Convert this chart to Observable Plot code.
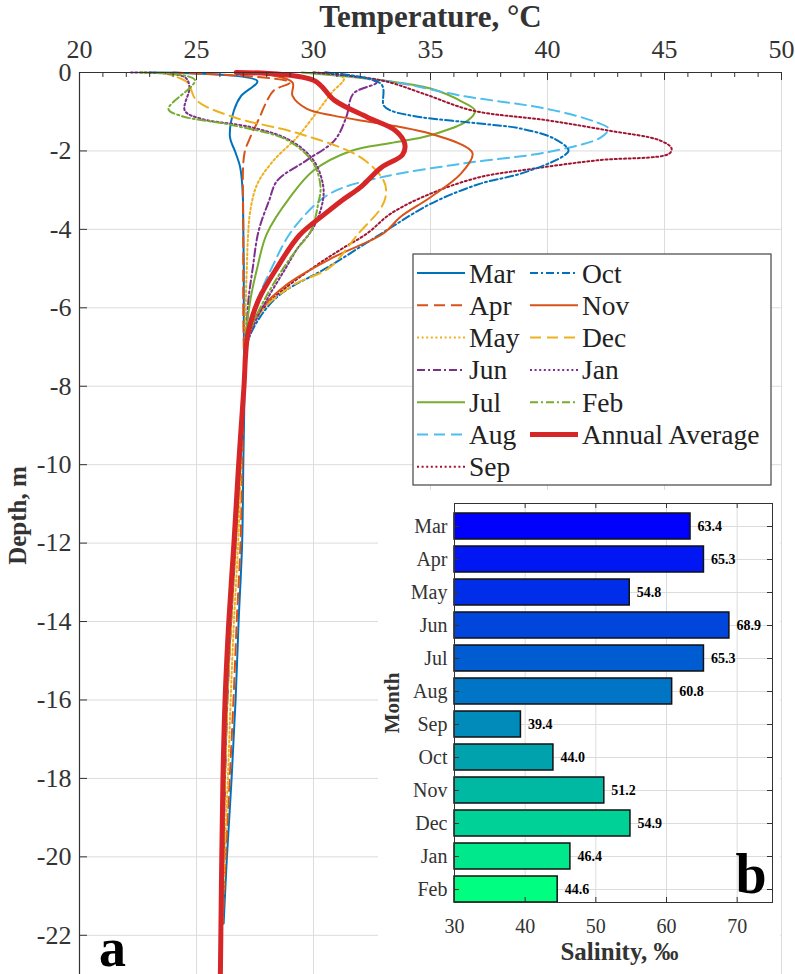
<!DOCTYPE html>
<html><head><meta charset="utf-8">
<script src="https://cdn.jsdelivr.net/npm/d3@7"></script>
<script src="https://cdn.jsdelivr.net/npm/@observablehq/plot@0.6"></script>
<style>
body{margin:0;background:#fff;}
#wrap{position:relative;width:795px;height:974px;overflow:hidden;font-family:"Liberation Serif",serif;}
#wrap > svg{position:absolute;margin:0;}
#wrap svg text{font-family:"Liberation Serif",serif !important;}
</style></head><body><div id="wrap"></div>
<script>
// Months in plotting order (March to February)
const months = ["Mar","Apr","May","Jun","Jul","Aug","Sep","Oct","Nov","Dec","Jan","Feb"];

// Temperature profiles: [depth (m), temperature (°C)]
const profMar = [[0,23.0],[-0.22,27.6],[-0.6,26.9],[-0.97,26.6],[-1.65,26.43],[-2.0,26.64],[-2.4,26.86],[-3,26.97],[-4,27.0],[-5,27.02],[-6,27.02],[-7,27.03],[-8,27.05],[-10,27.0],[-12,26.95],[-14,26.8],[-16,26.67],[-18,26.5],[-20,26.3],[-21.7,26.16]];
const profApr = [[0,24.0],[-0.25,29.0],[-0.46,28.3],[-0.8,27.95],[-1.14,27.7],[-1.65,27.3],[-2,27.07],[-2.3,27.0],[-3,26.98],[-4,27.0],[-5,27.0],[-6,27.0],[-7,27.02],[-8,27.02],[-10,26.95],[-12,26.88],[-14,26.72],[-16,26.58],[-18,26.42],[-20,26.25],[-21.7,26.12]];
const profMay = [[0,30.0],[-0.15,31.3],[-0.5,30.8],[-0.97,30.2],[-1.65,29.3],[-2.24,28.3],[-2.84,27.6],[-3.52,27.3],[-4.2,27.2],[-5,27.15],[-6,27.1],[-7,27.08],[-8,27.0],[-10,26.9],[-12,26.78],[-14,26.6],[-16,26.46],[-18,26.34],[-20,26.2],[-21.7,26.1]];
const profJun = [[0,30.5],[-0.25,32.7],[-0.54,31.7],[-1.14,31.4],[-1.73,30.9],[-2.24,29.7],[-2.76,28.45],[-3.27,28.1],[-4.05,27.65],[-5,27.4],[-5.8,27.22],[-6.5,27.15],[-7,27.12],[-8,27.05],[-10,26.86],[-12,26.68],[-14,26.48],[-16,26.32],[-18,26.22],[-20,26.14],[-21.7,26.09]];
const profJul = [[0,29.5],[-0.2,32.9],[-0.41,35.0],[-0.76,36.4],[-0.97,36.9],[-1.22,36.6],[-1.6,35.0],[-1.8,33.3],[-2.0,31.6],[-2.5,30.0],[-3.18,29.0],[-4.12,28.0],[-4.97,27.6],[-5.8,27.3],[-6.5,27.15],[-7,27.12],[-8,27.05],[-10,26.85],[-12,26.66],[-14,26.46],[-16,26.3],[-18,26.2],[-20,26.13],[-21.7,26.08]];
const profAug = [[0,30.0],[-0.25,33.5],[-0.59,36.3],[-0.93,40.0],[-1.27,42.1],[-1.43,42.6],[-1.65,42.3],[-2.03,40.0],[-2.32,36.4],[-2.67,32.9],[-3.0,31.0],[-3.3,30.2],[-4.1,29.0],[-5.0,28.2],[-5.8,27.6],[-6.5,27.2],[-7,27.12],[-8,27.05],[-10,26.85],[-12,26.66],[-14,26.46],[-16,26.3],[-18,26.2],[-20,26.13],[-21.7,26.08]];
const profSep = [[0,30.0],[-0.2,32.9],[-0.54,34.7],[-0.97,36.8],[-1.22,40.0],[-1.48,42.6],[-1.73,44.8],[-1.93,45.3],[-2.07,45.2],[-2.24,42.1],[-2.46,39.3],[-2.67,37.1],[-3.09,35.0],[-3.6,33.3],[-4.1,32.3],[-4.5,31.2],[-4.97,30.0],[-5.8,28.2],[-6.4,27.4],[-7,27.12],[-8,27.05],[-10,26.85],[-12,26.66],[-14,26.46],[-16,26.3],[-18,26.2],[-20,26.13],[-21.7,26.08]];
const profOct = [[0,30.5],[-0.3,32.9],[-0.84,33.0],[-0.97,33.3],[-1.14,34.6],[-1.3,37.1],[-1.43,38.85],[-1.69,40.3],[-1.99,40.9],[-2.16,40.6],[-2.58,38.85],[-2.84,37.1],[-3.35,35.0],[-4.07,33.0],[-4.97,30.6],[-5.65,28.6],[-6.25,27.7],[-7,27.12],[-8,27.05],[-10,26.86],[-12,26.67],[-14,26.47],[-16,26.31],[-18,26.21],[-20,26.14],[-21.7,26.09]];
const profNov = [[0,27.5],[-0.25,29.1],[-0.59,29.1],[-0.92,29.7],[-1.1,30.85],[-1.27,32.5],[-1.39,33.7],[-1.56,35.0],[-1.86,36.4],[-2.07,36.8],[-2.58,36.3],[-3.18,35.0],[-3.69,33.7],[-4.1,33.0],[-4.71,30.86],[-5.39,28.9],[-6.07,27.7],[-6.67,27.2],[-7,27.12],[-8,27.05],[-10,26.86],[-12,26.67],[-14,26.47],[-16,26.31],[-18,26.21],[-20,26.14],[-21.7,26.09]];
const profDec = [[0,23.5],[-0.25,24.6],[-0.71,25.0],[-1.14,26.6],[-1.56,29.4],[-2.16,32.0],[-2.76,33.0],[-3.09,33.1],[-3.44,32.9],[-4.12,31.9],[-4.97,30.7],[-5.4,29.2],[-6.0,27.9],[-6.6,27.3],[-7,27.12],[-8,27.04],[-10,26.86],[-12,26.68],[-14,26.48],[-16,26.32],[-18,26.22],[-20,26.14],[-21.7,26.09]];
const profJan = [[0,22.2],[-0.12,24.5],[-0.37,24.7],[-0.97,24.5],[-1.18,25.2],[-1.39,27.3],[-1.73,29.0],[-2.24,30.0],[-2.84,30.4],[-3.27,30.4],[-3.95,30.0],[-4.5,29.3],[-5.0,28.8],[-5.8,28.0],[-6.5,27.4],[-7,27.15],[-8,27.05],[-10,26.84],[-12,26.65],[-14,26.45],[-16,26.29],[-18,26.19],[-20,26.12],[-21.7,26.07]];
const profFeb = [[0,22.6],[-0.19,24.93],[-0.93,23.8],[-1.1,24.3],[-1.35,26.6],[-1.73,28.9],[-2.32,30.0],[-2.92,30.3],[-3.35,30.2],[-4.03,29.9],[-4.5,29.3],[-5.0,28.7],[-5.8,27.9],[-6.5,27.35],[-7,27.15],[-8,27.05],[-10,26.84],[-12,26.65],[-14,26.45],[-16,26.29],[-18,26.19],[-20,26.12],[-21.7,26.07]];
const profAvg = [[0,26.7],[-0.2,30.0],[-0.71,30.9],[-1.14,32.3],[-1.48,33.5],[-1.82,33.9],[-2.1,33.8],[-2.42,32.9],[-2.93,32.0],[-3.27,31.2],[-3.6,30.5],[-4.15,29.4],[-4.97,28.45],[-5.8,27.65],[-6.65,27.2],[-7.2,27.1],[-8,27.03],[-10,26.8],[-12,26.6],[-14,26.38],[-16,26.22],[-18,26.13],[-20,26.08],[-22,26.04],[-23,26.02]];

// Mean monthly salinity (‰)
const salinity = [63.4,65.3,54.8,68.9,65.3,60.8,39.4,44.0,51.2,54.9,46.4,44.6];

// Axis ticks
const tempTicks = [20,25,30,35,40,45,50];
const tempMinorTicks = [21,22,23,24,26,27,28,29,31,32,33,34,36,37,38,39,41,42,43,44,46,47,48,49];
const depthTicks = [0,-2,-4,-6,-8,-10,-12,-14,-16,-18,-20,-22];
const salTicks = [30,40,50,60,70];

// ---- styling ----
const profiles = {Mar:profMar,Apr:profApr,May:profMay,Jun:profJun,Jul:profJul,Aug:profAug,Sep:profSep,Oct:profOct,Nov:profNov,Dec:profDec,Jan:profJan,Feb:profFeb};
const C = {blue:"#0072BD", orange:"#D95319", yellow:"#EDB120", purple:"#7E2F8E", green:"#77AC30", cyan:"#4DBEEE", maroon:"#A2142F"};
const DASH = {solid:null, dashed:"11,6", dotted:"2,2.6", dashdot:"8,3,2,3"};
const lineStyle = {
  Mar:[C.blue,"solid"], Apr:[C.orange,"dashed"], May:[C.yellow,"dotted"], Jun:[C.purple,"dashdot"],
  Jul:[C.green,"solid"], Aug:[C.cyan,"dashed"], Sep:[C.maroon,"dotted"], Oct:[C.blue,"dashdot"],
  Nov:[C.orange,"solid"], Dec:[C.yellow,"dashed"], Jan:[C.purple,"dotted"], Feb:[C.green,"dashdot"]
};
const AVG_COLOR = "#d62628";
const INK = "#333";
const GRID = "#dcdcdc";
const FONT = "Liberation Serif, serif";

const wrap = document.getElementById("wrap");

// ---- panel a: temperature profiles ----
const W = 795, H = 974, mL = 79, mR = 14, mT = 72, mB = 0;
const fw = W - mL - mR, fh = H - mT - mB;

const profileMarks = months.map(m => {
  const [color, style] = lineStyle[m];
  return Plot.line(profiles[m], {x: d => d[1], y: d => d[0], stroke: color, strokeWidth: 2,
    strokeDasharray: DASH[style] ?? undefined, curve: "catmull-rom"});
});

const mainPlot = Plot.plot({
  width: W, height: H, marginLeft: mL, marginRight: mR, marginTop: mT, marginBottom: mB,
  style: {background: "white", fontFamily: FONT, color: INK},
  x: {domain: [20, 50]},
  y: {domain: [-23, 0]},
  marks: [
    Plot.gridX(tempTicks.slice(1), {stroke: GRID, strokeOpacity: 1}),
    Plot.gridY(depthTicks.slice(1), {stroke: GRID, strokeOpacity: 1}),
    ...profileMarks,
    Plot.line(profAvg, {x: d => d[1], y: d => d[0], stroke: AVG_COLOR, strokeWidth: 5, curve: "catmull-rom"}),
    Plot.ruleY([0], {stroke: INK, strokeWidth: 1.2}),
    Plot.ruleX([20], {stroke: INK, strokeWidth: 1.2}),
    Plot.tickX(tempTicks, {x: d => d, stroke: INK, insetBottom: fh - 8}),
    Plot.tickX(tempMinorTicks, {x: d => d, stroke: INK, insetBottom: fh - 5}),
    Plot.tickY(depthTicks, {y: d => d, stroke: INK, insetRight: fw - 8}),
    Plot.axisX({anchor: "top", ticks: tempTicks, tickSize: 0, tickPadding: 15, fontSize: 26, label: null, color: INK}),
    Plot.axisY({anchor: "left", ticks: depthTicks, tickSize: 0, tickPadding: 8, fontSize: 26, label: null, color: INK, tickFormat: d => String(d)}),
    Plot.text(["Temperature, °C"], {frameAnchor: "top", lineAnchor: "middle", textAnchor: "middle", dy: -55, fontSize: 31, fontWeight: "bold", fill: INK}),
    Plot.text(["Depth, m"], {frameAnchor: "left", lineAnchor: "middle", textAnchor: "middle", dx: -62, dy: -8, rotate: -90, fontSize: 25, fontWeight: "bold", fill: INK}),
    Plot.text(["a"], {frameAnchor: "bottom-left", lineAnchor: "middle", textAnchor: "middle", dx: 33, dy: -26, fontSize: 54, fontWeight: "bold", fill: "#000"})
  ]
});
mainPlot.style.left = "0px"; mainPlot.style.top = "0px";
wrap.appendChild(mainPlot);

// ---- legend ----
const legendItems = [
  ...months.map(m => ({label: m, color: lineStyle[m][0], dash: DASH[lineStyle[m][1]], width: 2})),
  {label: "Annual Average", color: AVG_COLOR, dash: null, width: 5}
];
const LX = 413, LY = 254, LW = 358, LH = 231;
const leg = d3.create("svg").attr("width", LW + 2).attr("height", LH + 2)
  .style("left", (LX - 1) + "px").style("top", (LY - 1) + "px");
leg.append("rect").attr("x", 1).attr("y", 1).attr("width", LW).attr("height", LH)
  .attr("fill", "white").attr("stroke", "#444").attr("stroke-width", 1.2);
legendItems.forEach((it, i) => {
  const col = i < 7 ? 0 : 1, row = i < 7 ? i : i - 7;
  const x0 = col === 0 ? 5 : 118, y = 20 + row * 32.3;
  const g = leg.append("g");
  g.append("line").attr("x1", x0).attr("x2", x0 + 48).attr("y1", y).attr("y2", y)
    .attr("stroke", it.color).attr("stroke-width", it.width).attr("stroke-dasharray", it.dash);
  g.append("text").attr("x", x0 + 52).attr("y", y + 9.5).text(it.label)
    .attr("font-size", 27.5).attr("fill", "#222");
});
wrap.appendChild(leg.node());

// ---- panel b: salinity inset ----
const salDomain = [30, 75];
const IW = 402, IH = 484, iL = 76, iR = 8, iT = 13, iB = 72;
const ifw = IW - iL - iR, ifh = IH - iT - iB;
const salData = months.map((m, i) => ({month: m, value: salinity[i], idx: i}));

const inset = Plot.plot({
  width: IW, height: IH, marginLeft: iL, marginRight: iR, marginTop: iT, marginBottom: iB,
  style: {background: "white", fontFamily: FONT, color: INK},
  x: {domain: salDomain},
  y: {domain: months, paddingInner: 0.22, paddingOuter: 0.06, align: 1},
  color: {type: "linear", domain: [0, months.length - 1], range: ["#0000ff", "#00ff80"], interpolate: "rgb"},
  marks: [
    Plot.gridX(salTicks.slice(1), {stroke: GRID, strokeOpacity: 1}),
    Plot.gridY(months, {stroke: GRID, strokeOpacity: 1}),
    Plot.barX(salData, {y: "month", x1: salDomain[0], x2: "value", fill: "idx", stroke: "#111", strokeWidth: 1.5}),
    Plot.text(salData, {y: "month", x: "value", text: d => d.value.toFixed(1), dx: 7, textAnchor: "start",
      fontSize: 14, fontWeight: "bold", fill: "#000"}),
    Plot.frame({stroke: INK, strokeWidth: 1}),
    Plot.tickX(salTicks, {x: d => d, stroke: INK, insetTop: ifh - 5}),
    Plot.tickX(salTicks, {x: d => d, stroke: INK, insetBottom: ifh - 5}),
    Plot.tickY(months, {y: d => d, stroke: INK, insetRight: ifw - 5}),
    Plot.tickY(months, {y: d => d, stroke: INK, insetLeft: ifw - 5}),
    Plot.axisX({anchor: "bottom", ticks: salTicks, tickSize: 0, tickPadding: 16, fontSize: 20, label: null, color: INK}),
    Plot.axisY({anchor: "left", tickSize: 0, tickPadding: 7, fontSize: 20, label: null, color: INK}),
    Plot.text(["Salinity, ‰"], {frameAnchor: "bottom", lineAnchor: "middle", textAnchor: "middle", dy: 49, dx: 6, fontSize: 25, fontWeight: "bold", fill: INK}),
    Plot.text(["Month"], {frameAnchor: "left", lineAnchor: "middle", textAnchor: "middle", dx: -62, rotate: -90, fontSize: 21, fontWeight: "bold", fill: INK}),
    Plot.text(["b"], {frameAnchor: "bottom-right", lineAnchor: "middle", textAnchor: "middle", dx: -21.5, dy: -27, fontSize: 56, fontWeight: "bold", fill: "#000"})
  ]
});
inset.style.left = "378px"; inset.style.top = "490px";
wrap.appendChild(inset);
</script>
</body></html>
